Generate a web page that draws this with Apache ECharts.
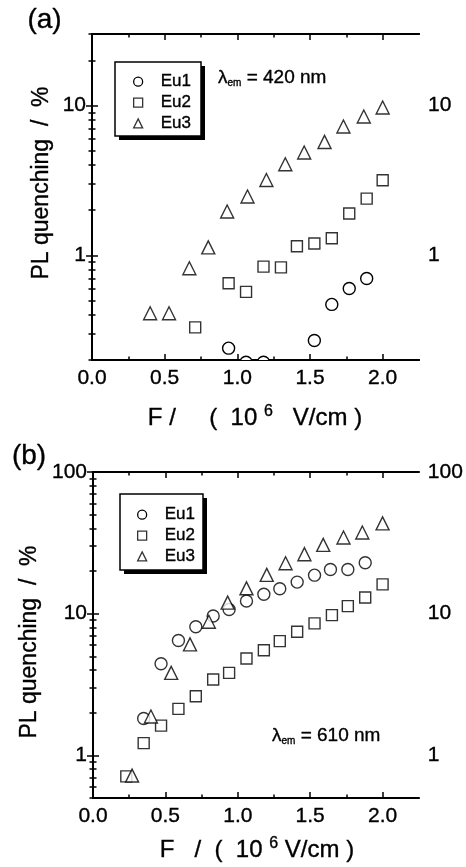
<!DOCTYPE html>
<html>
<head>
<meta charset="utf-8">
<script src="https://cdn.jsdelivr.net/npm/echarts@6/dist/echarts.min.js"></script>
<style>
  html, body { margin: 0; background: #fff; }
  #chart { width: 466px; height: 867px; }
</style>
</head>
<body>
<div id="chart"></div>
<script>
// panel (a): lambda_em = 420 nm
const fA1 = [0.94, 1.06, 1.18, 1.53, 1.65, 1.77, 1.89];
const qA1 = [0.24, 0.193, 0.193, 0.27, 0.47, 0.60, 0.70];
const fA2 = [0.71, 0.94, 1.06, 1.18, 1.30, 1.41, 1.53, 1.65, 1.77, 1.89, 2.00];
const qA2 = [0.33, 0.65, 0.57, 0.84, 0.83, 1.15, 1.20, 1.30, 1.90, 2.39, 3.17];
const fA3 = [0.40, 0.53, 0.67, 0.80, 0.93, 1.07, 1.20, 1.33, 1.46, 1.60, 1.73, 1.87, 2.00];
const qA3 = [0.41, 0.41, 0.82, 1.13, 1.96, 2.47, 3.18, 4.05, 4.85, 5.71, 7.24, 8.44, 9.69];

// panel (b): lambda_em = 610 nm
const fB1 = [0.35, 0.47, 0.59, 0.71, 0.83, 0.94, 1.06, 1.18, 1.29, 1.41, 1.53, 1.64, 1.76, 1.88];
const qB1 = [1.82, 4.43, 6.47, 8.09, 9.62, 10.7, 12.3, 13.7, 15.0, 16.7, 18.7, 20.5, 20.5, 22.9];
const fB2 = [0.23, 0.35, 0.47, 0.59, 0.71, 0.83, 0.94, 1.06, 1.18, 1.29, 1.41, 1.53, 1.65, 1.76, 1.88, 2.00];
const qB2 = [0.71, 1.22, 1.62, 2.13, 2.61, 3.43, 3.82, 4.83, 5.52, 6.40, 7.46, 8.54, 9.77, 11.3, 13.0, 16.1];
const fB3 = [0.27, 0.40, 0.54, 0.67, 0.80, 0.93, 1.06, 1.20, 1.33, 1.46, 1.59, 1.73, 1.86, 2.00];
const qB3 = [0.72, 1.88, 3.82, 6.07, 8.77, 11.96, 15.1, 18.8, 22.7, 26.3, 30.6, 34.5, 37.4, 43.4];

// tick positions
const xMajor = [0, 0.5, 1.0, 1.5, 2.0];
const xMinor = [0.25, 0.75, 1.25, 1.75];
const yMajorA = [1, 10];
const yMinorA = [0.2, 0.3, 0.4, 0.5, 0.6, 0.7, 0.8, 0.9, 2, 3, 4, 5, 6, 7, 8, 9, 20, 30];
const yMajorB = [1, 10, 100];
const yMinorB = [0.5, 0.6, 0.7, 0.8, 0.9, 2, 3, 4, 5, 6, 7, 8, 9, 20, 30, 40, 50, 60, 70, 80, 90];

const FONT = '"Liberation Sans", Arial, sans-serif';
const zip = (a, b) => a.map((v, i) => [v, b[i]]);

const markStyle = { color: '#fff', borderColor: '#000', borderWidth: 1.4 };
const lineStyle = { color: '#000', width: 2 };
const tickLine = { color: '#000', width: 1.5 };
// thin outline to thicken glyphs a bit, the scan looks heavier than plain Arial
const heavy = { textBorderColor: '#000', textBorderWidth: 0.35 };

function xAxes(grid) {
  const base = {
    gridIndex: grid, type: 'value', min: 0, max: 2.25,
    axisLine: { lineStyle: lineStyle }, splitLine: { show: false }
  };
  return [
    Object.assign({}, base, {
      position: 'bottom',
      axisTick: { inside: true, length: 6, customValues: xMajor, lineStyle: tickLine },
      axisLabel: Object.assign({ customValues: xMajor, margin: 8, color: '#000', fontSize: 21, fontFamily: FONT,
        formatter: v => v.toFixed(1) }, heavy)
    }),
    Object.assign({}, base, {
      position: 'bottom',
      axisTick: { inside: true, length: 3.5, customValues: xMinor, lineStyle: tickLine },
      axisLabel: { show: false }
    }),
    Object.assign({}, base, {
      position: 'top',
      axisTick: { inside: true, length: 6, customValues: xMajor, lineStyle: tickLine },
      axisLabel: { show: false }
    }),
    Object.assign({}, base, {
      position: 'top',
      axisTick: { inside: true, length: 3.5, customValues: xMinor, lineStyle: tickLine },
      axisLabel: { show: false }
    })
  ];
}

function yAxes(grid, min, max, major, minor) {
  const base = {
    gridIndex: grid, type: 'log', logBase: 10, min: min, max: max,
    axisLine: { lineStyle: lineStyle }, splitLine: { show: false }
  };
  const out = [];
  ['left', 'right'].forEach(pos => {
    out.push(Object.assign({}, base, {
      position: pos,
      axisTick: { inside: true, length: 6, customValues: major, lineStyle: tickLine },
      axisLabel: Object.assign({ customValues: major, margin: pos === 'left' ? 6 : 9, color: '#000', fontSize: 21,
        fontFamily: FONT, formatter: v => String(v) }, heavy)
    }));
    out.push(Object.assign({}, base, {
      position: pos,
      axisTick: { inside: true, length: 3.5, customValues: minor, lineStyle: tickLine },
      axisLabel: { show: false }
    }));
  });
  return out;
}

function scatter(name, x, y, data, symbol, size) {
  return {
    name: name, type: 'scatter', xAxisIndex: x, yAxisIndex: y,
    data: data, symbol: symbol, symbolSize: size, itemStyle: markStyle
  };
}

function legend(left, top) {
  const st = { color: '#fff', borderColor: '#000', borderWidth: 1.3 };
  return {
    orient: 'vertical', left: left, top: top,
    padding: [10, 9, 7, 18], itemGap: 3.5, itemWidth: 9, itemHeight: 9,
    selectedMode: false,
    textStyle: Object.assign({ fontSize: 17, fontFamily: FONT, color: '#000', lineHeight: 17, padding: [0, 0, 0, 13] }, heavy),
    data: [
      { name: 'Eu1', icon: 'circle', itemStyle: st },
      { name: 'Eu2', icon: 'rect', itemStyle: st },
      { name: 'Eu3', icon: 'triangle', itemStyle: st }
    ]
  };
}

// framed box with a hard black drop shadow behind the legend
function legendBox(x, y, w, h) {
  return [
    { type: 'rect', shape: { x: x + 4, y: y + 4, width: w, height: h }, style: { fill: '#000' } },
    { type: 'rect', shape: { x: x, y: y, width: w, height: h }, style: { fill: '#fff', stroke: '#000', lineWidth: 1.5 } }
  ];
}

function text(x, y, str, size, rot) {
  return {
    type: 'text', x: x, y: y, rotation: rot || 0,
    style: { text: str, font: size + 'px ' + FONT, fill: '#000', align: 'center',
      verticalAlign: 'middle', stroke: '#000', lineWidth: 0.35 }
  };
}

function richText(x, y, str, rich, align) {
  return {
    type: 'text', x: x, y: y,
    style: { text: str, align: align, verticalAlign: 'middle', rich: rich }
  };
}

const tok = (size, extra) => Object.assign({ fontSize: size, fontFamily: FONT, fill: '#000', stroke: '#000', lineWidth: 0.35 }, extra);
const richX = { n: tok(24), sup: tok(16, { padding: [0, 0, 13, 0] }) };
const richL = { l: tok(19), s: tok(10, { padding: [10, 0, 0, 0] }), t: tok(19) };

const chart = echarts.init(document.getElementById('chart'));
chart.setOption({
  animation: false,
  backgroundColor: '#fff',
  grid: [
    { left: 92, top: 34, width: 327, height: 326 },
    { left: 93, top: 472, width: 327, height: 326 }
  ],
  xAxis: xAxes(0).concat(xAxes(1)),
  yAxis: yAxes(0, 0.2, 30, yMajorA, yMinorA).concat(yAxes(1, 0.5, 100, yMajorB, yMinorB)),
  legend: [legend(115, 63), legend(119, 496)],
  series: [
    {
      // custom so the points below 0.2 are cut by the frame instead of dropped
      name: 'Eu1', type: 'custom', xAxisIndex: 0, yAxisIndex: 0, clip: true,
      encode: { x: 0, y: 1 }, data: zip(fA1, qA1),
      renderItem: (params, api) => {
        const p = api.coord([api.value(0), api.value(1)]);
        return { type: 'circle', shape: { cx: p[0], cy: p[1], r: 6 },
          style: { fill: '#fff', stroke: '#000', lineWidth: 1.4 } };
      }
    },
    scatter('Eu2', 0, 0, zip(fA2, qA2), 'rect', 11),
    scatter('Eu3', 0, 0, zip(fA3, qA3), 'triangle', 13),
    scatter('Eu1', 4, 4, zip(fB1, qB1), 'circle', 12),
    scatter('Eu2', 4, 4, zip(fB2, qB2), 'rect', 11),
    scatter('Eu3', 4, 4, zip(fB3, qB3), 'triangle', 13)
  ],
  graphic: legendBox(115, 62, 86, 74).concat(legendBox(120, 494, 83, 76), [
    text(44.5, 20, '(a)', 28),
    text(29, 456, '(b)', 28),
    text(42, 183, 'PL quenching  /  %', 23, Math.PI / 2),
    text(30, 642, 'PL quenching  /  %', 23, Math.PI / 2),
    richText(255, 418, '{n|F /     (  10 }{sup|6}{n|   V/cm )}', richX, 'center'),
    richText(257, 850, '{n|F   /  (  10 }{sup|6}{n| V/cm )}', richX, 'center'),
    richText(218, 78, '{l|λ}{s|em}{t| = 420 nm}', richL, 'left'),
    richText(272, 736, '{l|λ}{s|em}{t| = 610 nm}', richL, 'left')
  ])
});
</script>
</body>
</html>
